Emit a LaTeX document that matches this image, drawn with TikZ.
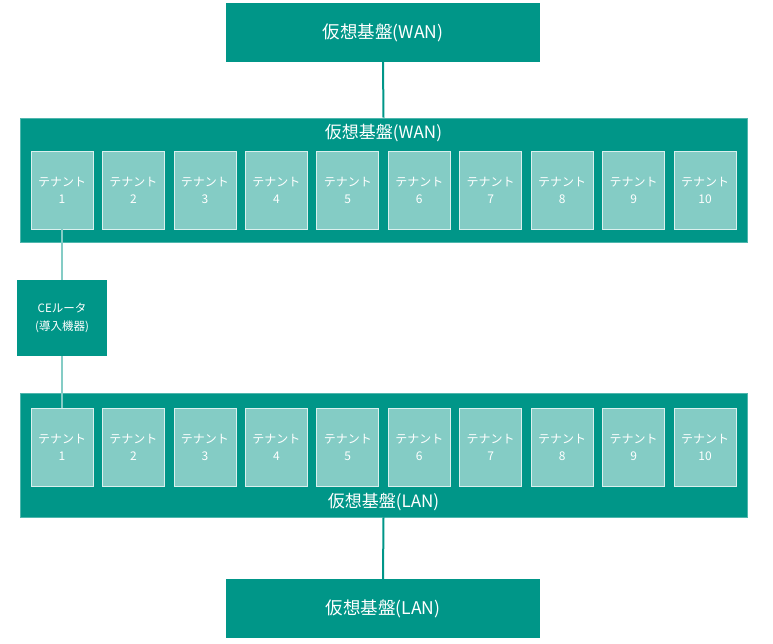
\documentclass[tikz,border=0pt]{standalone}
\usepackage{fontspec}
\setmainfont{Noto Sans CJK JP}
\definecolor{tealdark}{RGB}{0,150,136}
\definecolor{teallight}{RGB}{132,204,197}
\tikzset{
  platform/.style={fill=tealdark, draw=none, text=white, minimum width=314pt, minimum height=59pt, font=\fontsize{17.5}{20}\selectfont, inner sep=0pt},
  band/.style={fill=tealdark, draw=teallight!60!tealdark, line width=0.6pt, minimum width=727pt, minimum height=124pt, inner sep=0pt},
  bandtitle/.style={text=white, font=\fontsize{17}{19}\selectfont, inner sep=0pt},
  tenant/.style={fill=teallight, draw=white!70!teallight, line width=0.8pt, text=white, minimum width=62pt, minimum height=78pt, align=center, font=\fontsize{12}{17}\selectfont, inner sep=0pt},
  cerouter/.style={fill=tealdark, draw=none, text=white, minimum width=90pt, minimum height=76pt, align=center, font=\fontsize{11.5}{18}\selectfont, inner sep=0pt},
  link/.style={tealdark, line width=2pt},
  celink/.style={teallight, line width=2pt}
}
\begin{document}
\begin{tikzpicture}[x=1pt, y=-1pt]
  \useasboundingbox (0,0) rectangle (773,643);
  % upper side
  \node [platform] (wantop) at (383,32.5) {仮想基盤(WAN)};
  \node [band] (wanband) at (383.5,180) {};
  \node [bandtitle] (wantitle) at (383.5,133) {仮想基盤(WAN)};
  \foreach \i in {1,...,10}
    \node [tenant] (wt\i) at ({62+(\i-1)*71.45},190) {テナント\\\i};
  % lower side
  \node [band] (lanband) at (383.5,455) {};
  \node [bandtitle] (lantitle) at (383.5,502) {仮想基盤(LAN)};
  \foreach \i in {1,...,10}
    \node [tenant] (lt\i) at ({62+(\i-1)*71.45},447) {テナント\\\i};
  \node [platform] (lanbottom) at (383,608.5) {仮想基盤(LAN)};
  % CE router
  \node [cerouter] (ce) at (62,318) {CEルータ\\(導入機器)};
  \draw [link] (wantop.south) -- (wanband.north);
  \draw [link] (lanband.south) -- (lanbottom.north);
  \draw [celink] (wt1.south) -- (ce.north);
  \draw [celink] (ce.south) -- (lt1.north);
\end{tikzpicture}
\end{document}
